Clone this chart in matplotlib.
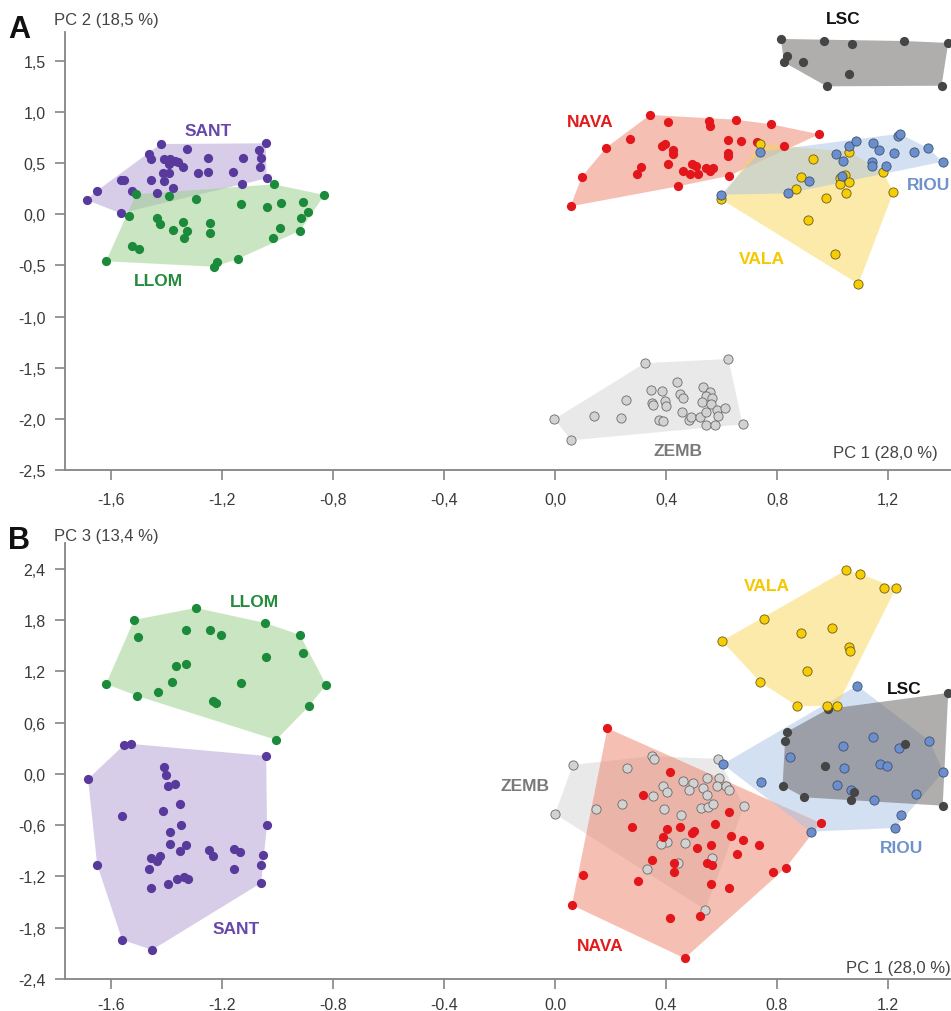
import numpy as np
import matplotlib
matplotlib.use("Agg")
import matplotlib.pyplot as plt
from matplotlib.patches import Polygon

plt.rcParams['font.family'] = ['Liberation Sans', 'DejaVu Sans']

# ---------------- DATA: panel A (PC1 vs PC2) ----------------
A_SANT_x = [-1.688,-1.652,-1.564,-1.552,-1.525,-1.565,-1.462,-1.457,-1.421,-1.327,-1.408,-1.387,-1.393,-1.369,-1.357,-1.339,-1.412,-1.393,-1.409,-1.456,-1.435,-1.378,-1.285,-1.252,-1.249,-1.159,-1.125,-1.129,-1.067,-1.043,-1.061,-1.063,-1.039]
A_SANT_y = [0.139,0.227,0.334,0.334,0.227,0.009,0.586,0.540,0.686,0.637,0.540,0.540,0.491,0.523,0.507,0.464,0.403,0.403,0.327,0.337,0.204,0.253,0.403,0.546,0.409,0.415,0.552,0.292,0.631,0.693,0.549,0.461,0.351]
A_LLOM_x = [-1.510,-1.391,-1.295,-1.133,-1.039,-1.014,-0.986,-0.907,-0.831,-0.890,-0.916,-0.919,-0.991,-1.015,-1.144,-1.217,-1.228,-1.243,-1.243,-1.342,-1.327,-1.337,-1.378,-1.433,-1.423,-1.525,-1.498,-1.618,-1.536]
A_LLOM_y = [0.195,0.175,0.149,0.097,0.070,0.292,0.112,0.116,0.188,0.022,-0.037,-0.161,-0.138,-0.236,-0.438,-0.464,-0.513,-0.089,-0.187,-0.073,-0.161,-0.230,-0.157,-0.040,-0.096,-0.308,-0.343,-0.460,-0.015]
A_NAVA_x = [0.056,0.096,0.184,0.270,0.342,0.408,0.556,0.558,0.651,0.780,0.952,0.625,0.669,0.729,0.825,0.384,0.396,0.426,0.426,0.408,0.310,0.297,0.444,0.462,0.486,0.495,0.507,0.517,0.544,0.559,0.571,0.622,0.625,0.628]
A_NAVA_y = [0.077,0.364,0.650,0.735,0.970,0.898,0.914,0.865,0.924,0.879,0.781,0.728,0.718,0.703,0.664,0.664,0.686,0.631,0.588,0.491,0.464,0.393,0.273,0.425,0.393,0.491,0.468,0.393,0.449,0.425,0.449,0.598,0.572,0.376]
A_VALA_x = [0.597,0.739,0.931,0.885,0.867,0.977,0.913,1.009,1.093,1.061,1.045,1.027,1.027,1.059,1.048,1.183,1.219]
A_VALA_y = [0.149,0.686,0.540,0.361,0.246,0.155,-0.054,-0.386,-0.682,0.611,0.383,0.351,0.295,0.318,0.207,0.409,0.214]
A_RIOU_x = [0.598,0.739,0.841,0.917,1.013,1.037,1.061,1.085,1.145,1.169,1.222,1.237,1.243,1.295,1.345,1.397,1.141,1.141,1.193,1.033]
A_RIOU_y = [0.191,0.611,0.204,0.322,0.588,0.523,0.664,0.718,0.696,0.631,0.598,0.767,0.787,0.605,0.644,0.513,0.513,0.468,0.468,0.370]
A_LSC_x = [0.814,0.969,1.070,1.258,1.417,0.835,0.825,0.892,1.061,0.979,1.393]
A_LSC_y = [1.713,1.690,1.661,1.693,1.674,1.549,1.485,1.485,1.368,1.250,1.256]
A_ZEMB_x = [-0.002,0.058,0.141,0.237,0.256,0.324,0.625,0.676,0.346,0.384,0.351,0.352,0.398,0.399,0.376,0.388,0.441,0.450,0.462,0.459,0.482,0.491,0.523,0.543,0.543,0.576,0.535,0.559,0.543,0.566,0.530,0.563,0.585,0.586,0.612]
A_ZEMB_y = [-2.002,-2.210,-1.970,-1.992,-1.816,-1.455,-1.415,-2.054,-1.721,-1.731,-1.849,-1.865,-1.826,-1.872,-2.009,-2.022,-1.643,-1.761,-1.797,-1.934,-2.015,-1.986,-1.982,-1.931,-2.061,-2.061,-1.692,-1.735,-1.780,-1.800,-1.833,-1.858,-1.914,-1.970,-1.897]

# ---------------- DATA: panel B (PC1 vs PC3) ----------------
B_SANT_x = [-1.683,-1.553,-1.528,-1.041,-1.650,-1.560,-1.452,-1.059,-1.052,-1.059,-1.560,-1.409,-1.402,-1.395,-1.369,-1.351,-1.413,-1.387,-1.387,-1.423,-1.456,-1.434,-1.463,-1.456,-1.351,-1.337,-1.323,-1.395,-1.247,-1.232,-1.157,-1.135,-1.157,-1.038,-1.348,-1.330,-1.362]
B_SANT_y = [-0.058,0.340,0.352,0.211,-1.064,-1.942,-2.059,-1.276,-0.948,-1.065,-0.491,0.082,-0.011,-0.140,-0.117,-0.351,-0.433,-0.679,-0.820,-0.960,-0.984,-1.019,-1.113,-1.335,-0.901,-1.206,-1.229,-1.288,-0.890,-0.960,-0.878,-0.913,-1.112,-0.597,-0.597,-0.831,-1.229]
B_LLOM_x = [-1.618,-1.517,-1.503,-1.294,-1.330,-1.243,-1.204,-1.045,-0.919,-0.908,-0.825,-0.886,-1.005,-1.132,-1.041,-1.232,-1.222,-1.380,-1.431,-1.330,-1.366,-1.506]
B_LLOM_y = [1.054,1.804,1.605,1.944,1.687,1.687,1.628,1.768,1.628,1.417,1.042,0.797,0.399,1.066,1.370,0.855,0.832,1.078,0.960,1.288,1.265,0.914]
B_NAVA_x = [0.189,0.414,0.316,0.276,0.402,0.450,0.493,0.501,0.388,0.577,0.628,0.633,0.676,0.734,0.655,0.513,0.561,0.348,0.429,0.430,0.549,0.565,0.561,0.627,0.784,0.831,0.957,0.102,0.300,0.061,0.414,0.523,0.467]
B_NAVA_y = [0.535,0.020,-0.246,-0.617,-0.644,-0.620,-0.691,-0.664,-0.741,-0.585,-0.448,-0.729,-0.769,-0.831,-0.933,-0.866,-0.831,-1.003,-1.042,-1.151,-1.042,-1.065,-1.291,-1.335,-1.144,-1.100,-0.573,-1.182,-1.253,-1.534,-1.686,-1.666,-2.158]
B_VALA_x = [1.049,1.099,1.186,1.229,0.753,0.886,0.998,0.602,1.059,1.063,0.908,0.739,0.872,0.980,1.016]
B_VALA_y = [2.387,2.342,2.178,2.178,1.815,1.651,1.710,1.558,1.487,1.440,1.206,1.077,0.796,0.796,0.796]
B_RIOU_x = [1.089,0.604,0.743,0.847,1.037,1.145,1.241,1.349,1.399,1.301,1.247,1.226,0.921,1.041,1.171,1.198,1.017,1.066,1.150]
B_RIOU_y = [1.034,0.114,-0.090,0.196,0.332,0.430,0.301,0.390,0.027,-0.237,-0.480,-0.632,-0.675,0.071,0.117,0.097,-0.129,-0.184,-0.301]
B_LSC_x = [1.417,0.985,0.837,0.829,1.261,0.974,0.820,0.897,1.066,1.077,1.397]
B_LSC_y = [0.949,0.761,0.496,0.390,0.352,0.097,-0.137,-0.273,-0.301,-0.207,-0.371]
B_ZEMB_x = [0.064,0.000,0.148,0.243,0.261,0.348,0.357,0.589,0.681,0.390,0.402,0.354,0.462,0.496,0.484,0.547,0.592,0.535,0.549,0.583,0.616,0.628,0.526,0.553,0.571,0.393,0.455,0.467,0.402,0.383,0.444,0.567,0.330,0.541]
B_ZEMB_y = [0.106,-0.468,-0.410,-0.351,0.067,0.208,0.176,0.176,-0.378,-0.144,-0.207,-0.254,-0.082,-0.105,-0.184,-0.043,-0.043,-0.160,-0.246,-0.144,-0.144,-0.187,-0.398,-0.383,-0.347,-0.410,-0.480,-0.812,-0.800,-0.823,-1.046,-0.983,-1.112,-1.589]

x_ticks = [-1.6, -1.2, -0.8, -0.4, 0.0, 0.4, 0.8, 1.2]
x_labels_A = ['-1,6', '-1,2', '-0,8', '-0,4', '0,0', '0,4', '0,8', '1,2']
x_labels_B = ['-1.6', '-1.2', '-0.8', '-0.4', '0.0', '0.4', '0.8', '1.2']
y_ticks_A = [1.5, 1.0, 0.5, 0.0, -0.5, -1.0, -1.5, -2.0, -2.5]
y_labels_A = ['1,5', '1,0', '0,5', '0,0', '-0,5', '-1,0', '-1,5', '-2,0', '-2,5']
y_ticks_B = [2.4, 1.8, 1.2, 0.6, 0.0, -0.6, -1.2, -1.8, -2.4]
y_labels_B = ['2,4', '1,8', '1,2', '0,6', '0,0', '-0,6', '-1,2', '-1,8', '-2,4']

# ---------------- styles ----------------
style = {
    'SANT': dict(pt='#573a9c', edge='#573a9c', fill='#b9a5d8', alpha=0.55, lab='#6647ad'),
    'LLOM': dict(pt='#1b8a3a', edge='#1b8a3a', fill='#9fd18f', alpha=0.55, lab='#248a3c'),
    'NAVA': dict(pt='#e3161b', edge='#e3161b', fill='#ee8068', alpha=0.5, lab='#e31b1b'),
    'VALA': dict(pt='#f5cd00', edge='#6b5a20', fill='#f9d655', alpha=0.5, lab='#f5c800'),
    'RIOU': dict(pt='#6a8fcc', edge='#3f4f70', fill='#a9c3e6', alpha=0.5, lab='#6f92cc'),
    'LSC':  dict(pt='#454545', edge='#454545', fill='#6f6b6a', alpha=0.55, lab='#111111'),
    'ZEMB': dict(pt='#d2d2d2', edge='#6a6a6a', fill='#d0d0d0', alpha=0.45, lab='#7a7a7a'),
}

panelA = {'NAVA': (A_NAVA_x, A_NAVA_y), 'VALA': (A_VALA_x, A_VALA_y),
          'RIOU': (A_RIOU_x, A_RIOU_y), 'LSC': (A_LSC_x, A_LSC_y),
          'ZEMB': (A_ZEMB_x, A_ZEMB_y), 'SANT': (A_SANT_x, A_SANT_y),
          'LLOM': (A_LLOM_x, A_LLOM_y)}
panelB = {'ZEMB': (B_ZEMB_x, B_ZEMB_y), 'NAVA': (B_NAVA_x, B_NAVA_y),
          'RIOU': (B_RIOU_x, B_RIOU_y), 'LSC': (B_LSC_x, B_LSC_y),
          'VALA': (B_VALA_x, B_VALA_y), 'SANT': (B_SANT_x, B_SANT_y),
          'LLOM': (B_LLOM_x, B_LLOM_y)}

labelsA = {'SANT': (-1.25, 0.82), 'LLOM': (-1.43, -0.65), 'NAVA': (0.126, 0.91),
           'VALA': (0.746, -0.43), 'RIOU': (1.268, 0.29), 'LSC': (1.04, 1.91),
           'ZEMB': (0.443, -2.31)}
labelsB = {'LLOM': (-1.085, 2.015), 'SANT': (-1.15, -1.805), 'VALA': (0.764, 2.205),
           'LSC': (1.258, 1.005), 'ZEMB': (-0.108, -0.14), 'RIOU': (1.171, -0.865),
           'NAVA': (0.162, -2.005)}


def hull(px, py):
    pts = sorted(set(zip(px, py)))
    def cross(o, a, b):
        return (a[0]-o[0])*(b[1]-o[1]) - (a[1]-o[1])*(b[0]-o[0])
    lower, upper = [], []
    for p in pts:
        while len(lower) >= 2 and cross(lower[-2], lower[-1], p) <= 0:
            lower.pop()
        lower.append(p)
    for p in reversed(pts):
        while len(upper) >= 2 and cross(upper[-2], upper[-1], p) <= 0:
            upper.pop()
        upper.append(p)
    return np.array(lower[:-1] + upper[:-1])


W, H = 951, 1012
fig = plt.figure(figsize=(W/100, H/100), dpi=100)
axA = fig.add_axes([65/W, 1-471/H, (W-65)/W, (471-33)/H])
axB = fig.add_axes([65/W, 1-980/H, (W-65)/W, (980-544)/H])

XL = (-1.766, 1.427)
axis_col = '#858585'
tick_col = '#3a3a3a'


def setup(ax, yticks, ylabels, xlabels, ylim, xpad):
    ax.set_xlim(*XL)
    ax.set_ylim(*ylim)
    for s in ['top', 'right']:
        ax.spines[s].set_visible(False)
    for s in ['left', 'bottom']:
        ax.spines[s].set_color(axis_col)
        ax.spines[s].set_linewidth(1.3)
    ax.set_xticks(x_ticks)
    ax.set_xticklabels(xlabels)
    ax.set_yticks(yticks)
    ax.set_yticklabels(ylabels)
    ax.tick_params(axis='both', colors=axis_col, labelcolor=tick_col,
                   labelsize=11.5, length=7, width=1.2, direction='out')
    ax.tick_params(axis='x', pad=xpad)
    ax.tick_params(axis='y', pad=7)


def draw(ax, panel, labels):
    for name, (xs, ys) in panel.items():
        st = style[name]
        hp = hull(xs, ys)
        ax.add_patch(Polygon(hp, closed=True, facecolor=st['fill'], alpha=st['alpha'],
                             edgecolor='none', zorder=1))
    for name, (xs, ys) in panel.items():
        st = style[name]
        lw = 0.6 if name in ('VALA', 'RIOU', 'ZEMB') else 0
        ax.scatter(xs, ys, s=44, c=st['pt'], edgecolors=st['edge'], linewidths=lw,
                   zorder=3, clip_on=False)
    for name, (lx, ly) in labels.items():
        ax.text(lx, ly, name, color=style[name]['lab'], fontsize=12.5,
                fontweight='bold', ha='center' if name != 'RIOU' else 'left',
                va='center', zorder=4, clip_on=False)


setup(axA, y_ticks_A, y_labels_A, x_labels_A, (-2.5, 1.781), 9)
draw(axA, panelA, labelsA)
setup(axB, y_ticks_B, y_labels_B, x_labels_B, (-2.4, 2.704), 6)
draw(axB, panelB, labelsB)

axA.text(0.985, 0.04, 'PC 1 (28,0 %)', transform=axA.transAxes, ha='right', va='center',
         fontsize=12, color='#444444')
axB.text(1.0, 0.027, 'PC 1 (28,0 %)', transform=axB.transAxes, ha='right', va='center',
         fontsize=12, color='#444444')
fig.text(54/W, 1-20/H, 'PC 2 (18,5 %)', ha='left', va='center', fontsize=12, color='#444444')
fig.text(54/W, 1-536/H, 'PC 3 (13,4 %)', ha='left', va='center', fontsize=12, color='#444444')
fig.text(8/W, 1-30/H, 'A', ha='left', va='center', fontsize=22, fontweight='bold', color='#111111')
fig.text(8/W, 1-541/H, 'B', ha='left', va='center', fontsize=22, fontweight='bold', color='#111111')

fig.savefig('out.png', dpi=100)
